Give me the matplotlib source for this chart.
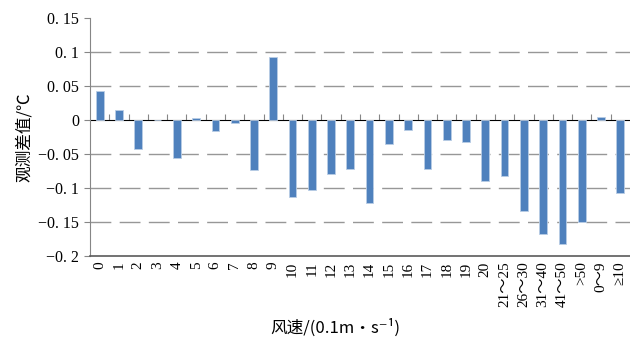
import numpy as np
import matplotlib.pyplot as plt

plt.rcParams['font.family'] = ['Liberation Serif', 'Noto Sans CJK SC', 'DejaVu Sans']

# wind speed classes (0.1 m/s) and mean observed difference (deg C)
speeds = ['0', '1', '2', '3', '4', '5', '6', '7', '8', '9', '10', '11', '12', '13',
          '14', '15', '16', '17', '18', '19', '20', '21～25', '26～30', '31～40',
          '41～50', '>50', '0～9', '≥10']
diffs = [0.042, 0.014, -0.042, 0.0, -0.056, 0.003, -0.016, -0.005, -0.073, 0.092,
         -0.113, -0.103, -0.080, -0.072, -0.122, -0.036, -0.015, -0.072, -0.030,
         -0.032, -0.090, -0.082, -0.134, -0.167, -0.182, -0.150, 0.004, -0.107]

yticks = [0.15, 0.1, 0.05, 0, -0.05, -0.1, -0.15, -0.2]
ylabels = ['0. 15', '0. 1', '0. 05', '0', '−0. 05', '−0. 1', '−0. 15', '−0. 2']

fig = plt.figure(figsize=(6.3, 3.44), dpi=100)
ax = fig.add_axes([0.1429, 0.2558, 0.857, 0.692])

x = np.arange(len(speeds))
ax.bar(x, diffs, width=0.4, color='#4F81BD', edgecolor='#B9CDE5', linewidth=0.6, zorder=3)

ax.set_xlim(-0.5, len(speeds) - 0.5)
ax.set_ylim(-0.2, 0.15)

# dashed grid, no line on the top value
for v in [0.1, 0.05, -0.05, -0.1, -0.15]:
    ax.axhline(v, color='#979797', linewidth=1.0, dashes=(15, 6), zorder=1)

ax.set_yticks(yticks)
ax.set_yticklabels(ylabels, fontsize=11.5)
ax.tick_params(axis='y', direction='out', length=4, color='#868686', pad=4)

ax.set_xticks(x)
ax.set_xticklabels(speeds, rotation=90, fontsize=11, va='top')
ax.tick_params(axis='x', length=0, pad=4)

for side in ['top', 'right']:
    ax.spines[side].set_visible(False)
ax.spines['left'].set_color('#868686')
ax.spines['bottom'].set_color('#5a5a5a')
ax.spines['bottom'].set_linewidth(1.2)

# category axis crossing at zero, ticks between categories
zero_ax = ax.secondary_xaxis(4 / 7)
zero_ax.spines['bottom'].set_color('#868686')
zero_ax.set_xticks(np.arange(0.5, len(speeds) - 0.5, 1))
zero_ax.set_xticklabels([])
zero_ax.tick_params(direction='out', length=4, color='#868686')

ax.set_ylabel('观测差值/℃', family=['Noto Sans CJK SC', 'DejaVu Sans'], fontsize=12, labelpad=4)
ax.set_xlabel('风速/(0.1m•s⁻¹)', family=['Noto Sans CJK SC', 'DejaVu Sans'], fontsize=12)
ax.xaxis.set_label_coords(0.455, -0.265)

fig.savefig('out.png', dpi=100)
